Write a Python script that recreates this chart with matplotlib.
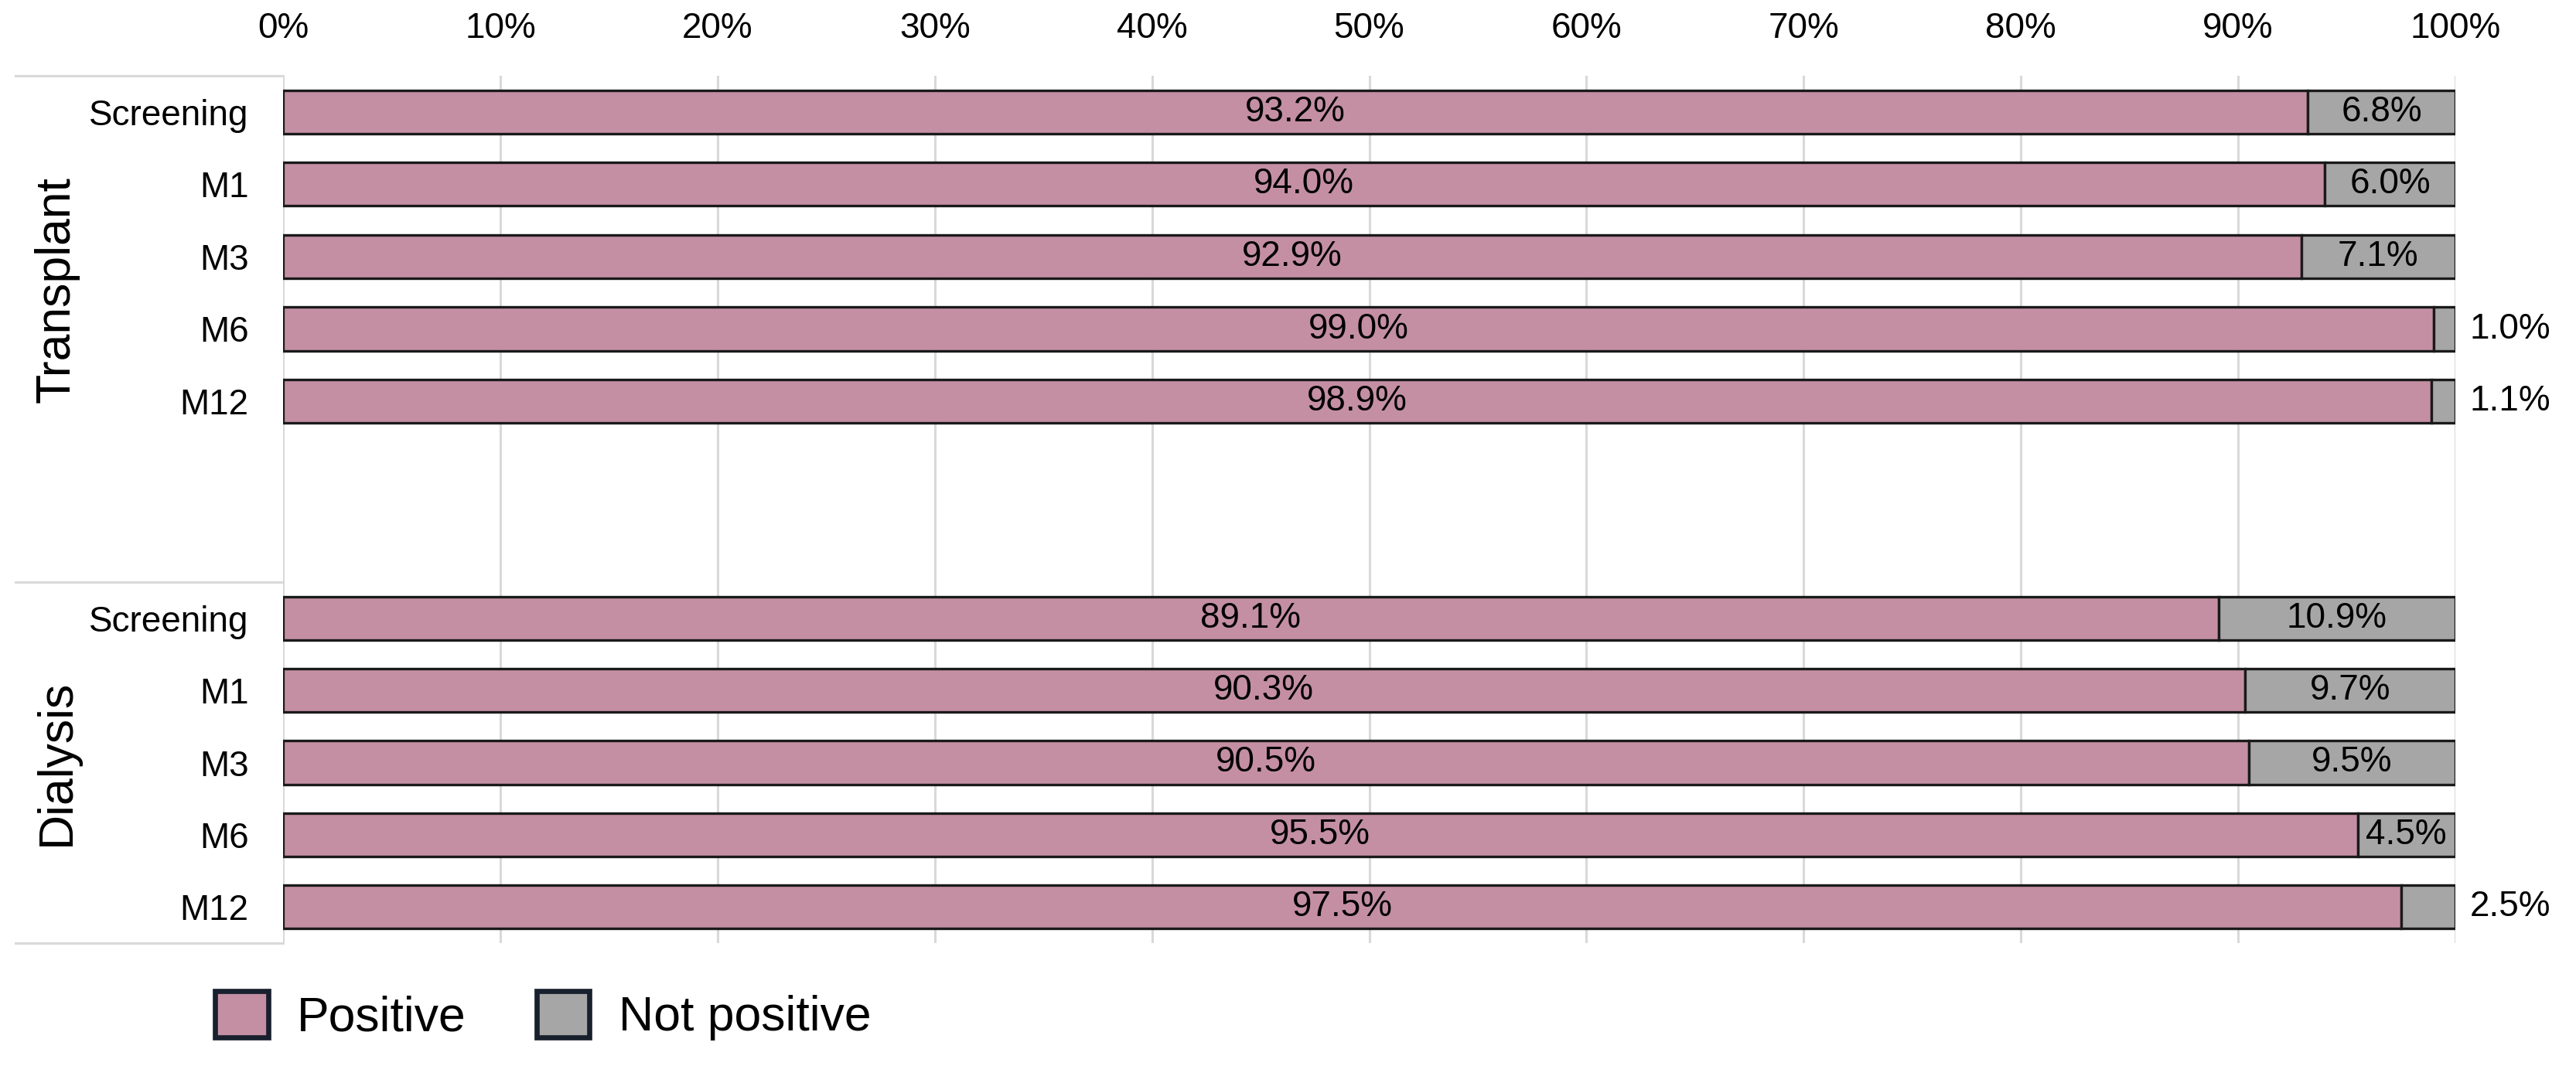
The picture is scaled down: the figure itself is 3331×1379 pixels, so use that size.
import numpy as np
import matplotlib
matplotlib.use("Agg")
import matplotlib.pyplot as plt
from matplotlib.lines import Line2D
from matplotlib.patches import Patch

plt.rcParams['font.family'] = ['Liberation Sans', 'DejaVu Sans']

# data
visits = ['Screening', 'M1', 'M3', 'M6', 'M12']
groups = ['Transplant', 'Dialysis']
transplant_pos = [93.2, 94.0, 92.9, 99.0, 98.9]
transplant_not = [6.8, 6.0, 7.1, 1.0, 1.1]
dialysis_pos = [89.1, 90.3, 90.5, 95.5, 97.5]
dialysis_not = [10.9, 9.7, 9.5, 4.5, 2.5]
xticks = [0, 10, 20, 30, 40, 50, 60, 70, 80, 90, 100]

pink = '#C48FA3'
grey = '#A6A6A6'
edge = '#1a1a1a'
gridc = '#D9D9D9'

W, H = 3331, 1379
dpi = 200
fig = plt.figure(figsize=(W / dpi, H / dpi), dpi=dpi)

left = 366 / W
right = 3175 / W
top_t = 1 - 98 / H
mid = 1 - 753 / H
bot = 1 - 1220 / H

ax_t = fig.add_axes([left, mid, right - left, top_t - mid])
ax_d = fig.add_axes([left, bot, right - left, mid - bot])

def draw_panel(ax, pos, notpos, nslots, first):
    y = np.arange(len(visits))
    ax.barh(y, pos, height=0.6, color=pink, edgecolor=edge, linewidth=1.2, zorder=3)
    ax.barh(y, notpos, left=pos, height=0.6, color=grey, edgecolor=edge, linewidth=1.2, zorder=3)
    for yi, p, n in zip(y, pos, notpos):
        ax.text(p / 2, yi, f'{p:.1f}%', ha='center', va='center', fontsize=16.5, zorder=4)
        if n >= 4:
            ax.text(p + n / 2, yi, f'{n:.1f}%', ha='center', va='center', fontsize=16.5, zorder=4)
        else:
            ax.text(100 + 0.65, yi, f'{n:.1f}%', ha='left', va='center', fontsize=16.5,
                    zorder=4, clip_on=False)
    ax.set_xlim(0, 100)
    ax.set_ylim(nslots - 0.5, -0.5)
    ax.set_yticks(y)
    ax.set_yticklabels(visits, fontsize=16.5)
    ax.tick_params(axis='y', length=0, pad=16)
    ax.set_xticks(xticks)
    ax.grid(axis='x', color=gridc, linewidth=1.1, zorder=0)
    for s in ax.spines.values():
        s.set_visible(False)
    if first:
        ax.xaxis.tick_top()
        ax.set_xticklabels([f'{t}%' for t in xticks], fontsize=16.5)
        ax.tick_params(axis='x', length=0, pad=14)
    else:
        ax.tick_params(axis='x', length=0, labelbottom=False)

draw_panel(ax_t, transplant_pos, transplant_not, 7, True)
draw_panel(ax_d, dialysis_pos, dialysis_not, 5, False)

# strip frame lines
for yy in [top_t, mid, bot]:
    fig.add_artist(Line2D([20 / W, left], [yy, yy], color=gridc, linewidth=1.1))

fig.text(73 / W, 1 - 375 / H, groups[0], rotation=90, ha='center', va='center', fontsize=22.5)
fig.text(73 / W, 1 - 986 / H, groups[1], rotation=90, ha='center', va='center', fontsize=22.5)

handles = [Patch(facecolor=pink, edgecolor='#17202c', linewidth=2.4),
           Patch(facecolor=grey, edgecolor='#17202c', linewidth=2.4)]
fig.legend(handles, ['Positive', 'Not positive'], loc='center left',
           bbox_to_anchor=(278 / W, 1 - 1314 / H), ncol=2, frameon=False,
           fontsize=22.5, handlelength=1.1, handleheight=1.1, handletextpad=0.6,
           columnspacing=1.45, borderpad=0, borderaxespad=0)

fig.savefig('out.png', dpi=dpi)
